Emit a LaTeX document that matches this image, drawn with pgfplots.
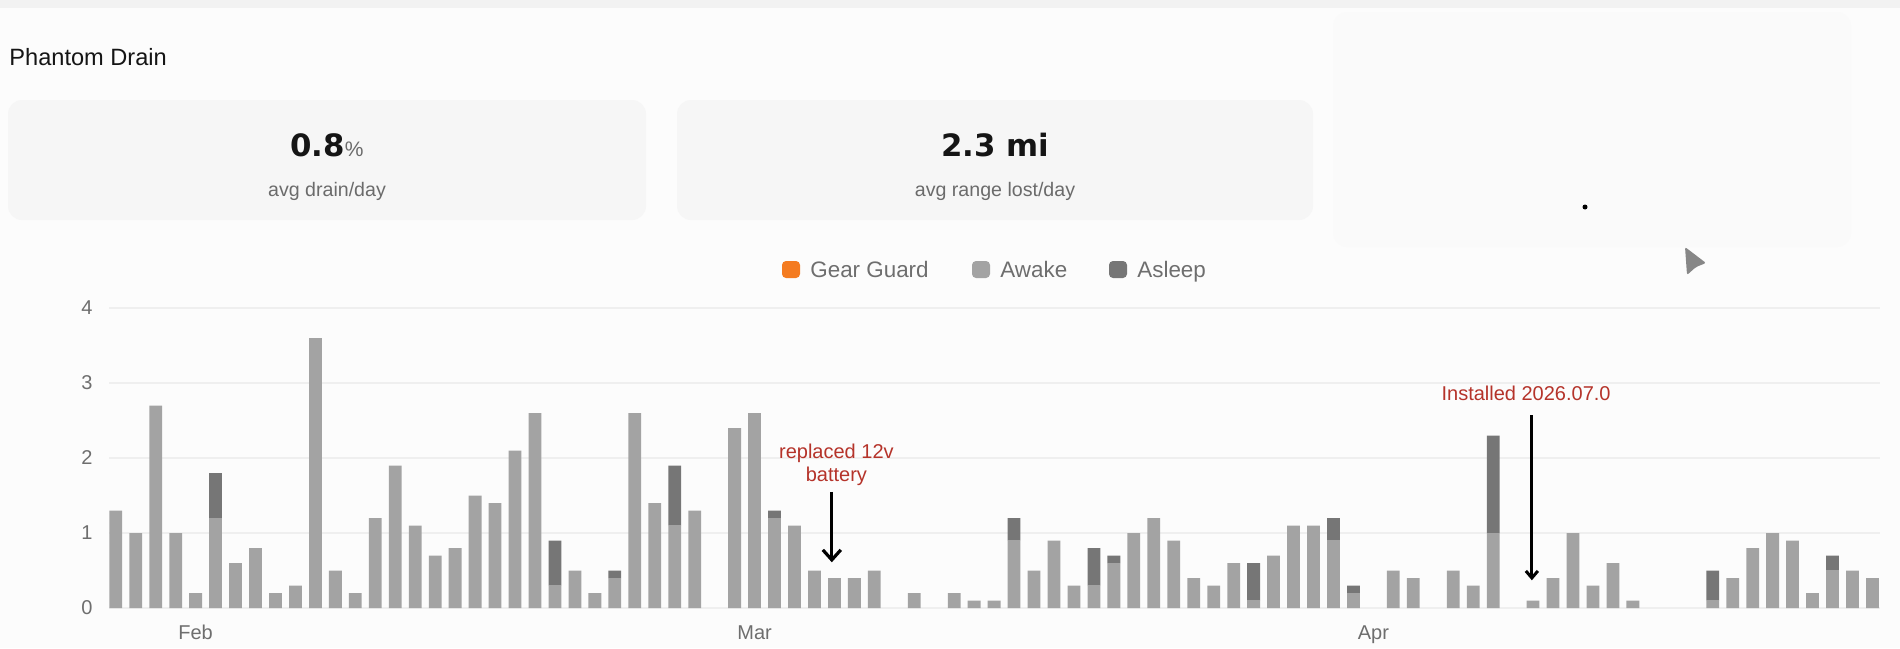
\documentclass[border=0pt]{standalone}
\usepackage{pgfplots}
\pgfplotsset{compat=1.18}
\usepackage{pgfplotstable}
\usepackage{fontspec}
\setmainfont{Liberation Sans}
\newfontfamily\numfont{DejaVu Sans}
\usetikzlibrary{arrows.meta}

\definecolor{bgc}{HTML}{FCFCFC}
\definecolor{bandc}{HTML}{F2F2F2}
\definecolor{cardc}{HTML}{F6F6F6}
\definecolor{card3c}{HTML}{FAFAFA}
\definecolor{titlec}{HTML}{151515}
\definecolor{subc}{HTML}{6B6B6B}
\definecolor{tickc}{HTML}{6E6E6E}
\definecolor{gridc}{HTML}{EFEFEF}
\definecolor{awakec}{HTML}{A3A3A3}
\definecolor{asleepc}{HTML}{767676}
\definecolor{ggc}{HTML}{F47B20}
\definecolor{annc}{HTML}{B5332A}

\pgfplotstableread{
i awake asleep
0 1.3 0
1 1.0 0
2 2.7 0
3 1.0 0
4 0.2 0
5 1.2 0.6
6 0.6 0
7 0.8 0
8 0.2 0
9 0.3 0
10 3.6 0
11 0.5 0
12 0.2 0
13 1.2 0
14 1.9 0
15 1.1 0
16 0.7 0
17 0.8 0
18 1.5 0
19 1.4 0
20 2.1 0
21 2.6 0
22 0.3 0.6
23 0.5 0
24 0.2 0
25 0.4 0.1
26 2.6 0
27 1.4 0
28 1.1 0.8
29 1.3 0
30 0 0
31 2.4 0
32 2.6 0
33 1.2 0.1
34 1.1 0
35 0.5 0
36 0.4 0
37 0.4 0
38 0.5 0
39 0 0
40 0.2 0
41 0 0
42 0.2 0
43 0.1 0
44 0.1 0
45 0.9 0.3
46 0.5 0
47 0.9 0
48 0.3 0
49 0.3 0.5
50 0.6 0.1
51 1.0 0
52 1.2 0
53 0.9 0
54 0.4 0
55 0.3 0
56 0.6 0
57 0.1 0.5
58 0.7 0
59 1.1 0
60 1.1 0
61 0.9 0.3
62 0.2 0.1
63 0 0
64 0.5 0
65 0.4 0
66 0 0
67 0.5 0
68 0.3 0
69 1.0 1.3
70 0 0
71 0.1 0
72 0.4 0
73 1.0 0
74 0.3 0
75 0.6 0
76 0.1 0
77 0 0
78 0 0
79 0 0
80 0.1 0.4
81 0.4 0
82 0.8 0
83 1.0 0
84 0.9 0
85 0.2 0
86 0.5 0.2
87 0.5 0
88 0.4 0
}\drain

\begin{document}
\begin{tikzpicture}
\begin{scope}[x=0.5pt,y=-0.5pt]
\useasboundingbox (0,0) rectangle (1900,648);
\fill[bgc] (0,0) rectangle (1900,648);
\fill[bandc] (0,0) rectangle (1900,8);
\fill[card3c, rounded corners=7pt] (1333,12) rectangle (1851,247);
\fill[cardc, rounded corners=7pt] (8,100) rectangle (646,220);
\fill[cardc, rounded corners=7pt] (677,100) rectangle (1313,220);
\node[anchor=base west, inner sep=0pt, text=titlec, font=\fontsize{11.8}{14}\selectfont] at (9,65) {Phantom Drain};
\node[anchor=base, inner sep=0pt, text=titlec] at (327,156) {\numfont\bfseries\fontsize{15.4}{18}\selectfont 0.8{\color{subc}\rmfamily\mdseries\fontsize{10.5}{12}\selectfont\%}};
\node[anchor=base, inner sep=0pt, text=subc, font=\fontsize{9.8}{12}\selectfont] at (327,196) {avg drain/day};
\node[anchor=base, inner sep=0pt, text=titlec] at (995,156) {\numfont\bfseries\fontsize{15.4}{18}\selectfont 2.3 mi};
\node[anchor=base, inner sep=0pt, text=subc, font=\fontsize{9.8}{12}\selectfont] at (995,196) {avg range lost/day};
\fill[black] (1585,207) circle (2.5);
\fill[black!47, rounded corners=1pt] (1685,247) -- (1706,263) -- (1696,267) -- (1687,275) -- cycle;
% legend
\fill[ggc, rounded corners=2pt] (782,261) rectangle (800,278);
\node[anchor=base west, inner sep=0pt, text=tickc, font=\fontsize{11.2}{13}\selectfont] at (810,277) {Gear Guard};
\fill[awakec, rounded corners=2pt] (972,261) rectangle (990,278);
\node[anchor=base west, inner sep=0pt, text=tickc, font=\fontsize{11.2}{13}\selectfont] at (1000,277) {Awake};
\fill[asleepc, rounded corners=2pt] (1109,261) rectangle (1127,278);
\node[anchor=base west, inner sep=0pt, text=tickc, font=\fontsize{11.2}{13}\selectfont] at (1137,277) {Asleep};
\end{scope}
\begin{axis}[
  at={(54.5pt,-304pt)}, anchor=south west,
  scale only axis, width=885.5pt, height=150pt,
  xmin=-0.34, xmax=88.38, ymin=0, ymax=4,
  ybar stacked, bar width=6.4pt,
  axis line style={draw=none},
  major tick length=0pt,
  ytick={0,1,2,3,4},
  ymajorgrids, grid style={gridc, line width=0.7pt},
  xtick={4,32,63}, xticklabels={Feb,Mar,Apr},
  /pgf/number format/assume math mode=true,
  yticklabel style={inner sep=0pt, anchor=east, xshift=-8pt, text=tickc, font=\fontsize{10}{12}\selectfont},
  xticklabel style={inner sep=0pt, anchor=north, yshift=-8.5pt, text=tickc, font=\fontsize{10}{12}\selectfont},
  clip=false,
]
\addplot[fill=awakec, draw=none] table[x=i, y=awake] {\drain};
\addplot[fill=asleepc, draw=none] table[x=i, y=asleep] {\drain};
\node[align=center, text=annc, font=\fontsize{10}{11.5}\selectfont] at (axis cs:36.1,1.91) {replaced 12v\\battery};
\draw[line width=1.6pt, -{Straight Barb[length=5pt,width=9pt]}] (axis cs:35.87,1.55) -- (axis cs:35.87,0.61);
\node[text=annc, font=\fontsize{10}{12}\selectfont] at (axis cs:70.65,2.867) {Installed 2026.07.0};
\draw[line width=1.5pt, -{Straight Barb[length=3.5pt,width=6pt]}] (axis cs:70.94,2.57) -- (axis cs:70.94,0.37);
\end{axis}
\end{tikzpicture}
\end{document}
